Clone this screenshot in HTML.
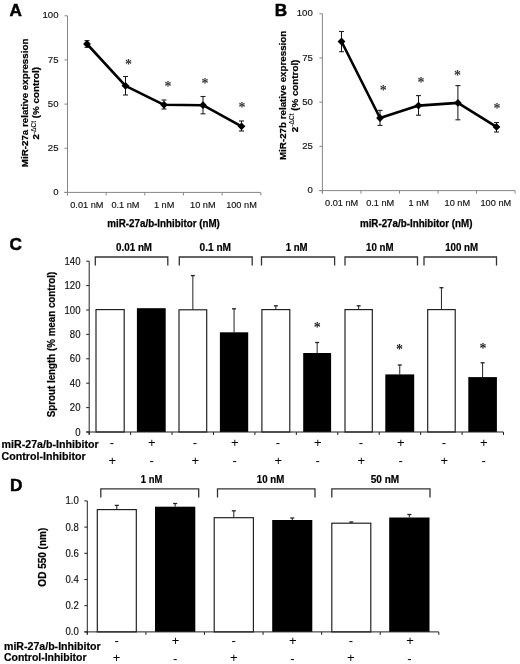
<!DOCTYPE html>
<html><head><meta charset="utf-8"><style>
html,body{margin:0;padding:0;background:#fff;}
svg{display:block;font-family:"Liberation Sans", sans-serif;will-change:transform;}
</style></head><body>
<svg width="520" height="664" viewBox="0 0 520 664">
<rect width="520" height="664" fill="#fff"/>
<text x="9.40" y="16.30" font-size="17.2" font-weight="bold" text-anchor="start" fill="#000"  stroke="#000" stroke-width="0.5">A</text>
<text x="274.80" y="15.90" font-size="17.2" font-weight="bold" text-anchor="start" fill="#000"  stroke="#000" stroke-width="0.5">B</text>
<text x="9.50" y="249.50" font-size="17.2" font-weight="bold" text-anchor="start" fill="#000"  stroke="#000" stroke-width="0.5">C</text>
<text x="10.10" y="490.60" font-size="17.2" font-weight="bold" text-anchor="start" fill="#000"  stroke="#000" stroke-width="0.5">D</text>
<line x1="67.50" y1="15.80" x2="67.50" y2="195.40" stroke="#868686" stroke-width="1"/>
<line x1="64.50" y1="192.40" x2="260.80" y2="192.40" stroke="#868686" stroke-width="1"/>
<line x1="64.50" y1="15.80" x2="67.50" y2="15.80" stroke="#868686" stroke-width="1"/>
<text x="58.50" y="18.40" font-size="9.6" font-weight="normal" text-anchor="end" fill="#111"  stroke="#111" stroke-width="0.15">100</text>
<line x1="64.50" y1="59.95" x2="67.50" y2="59.95" stroke="#868686" stroke-width="1"/>
<text x="58.50" y="62.55" font-size="9.6" font-weight="normal" text-anchor="end" fill="#111"  stroke="#111" stroke-width="0.15">75</text>
<line x1="64.50" y1="104.10" x2="67.50" y2="104.10" stroke="#868686" stroke-width="1"/>
<text x="58.50" y="106.70" font-size="9.6" font-weight="normal" text-anchor="end" fill="#111"  stroke="#111" stroke-width="0.15">50</text>
<line x1="64.50" y1="148.25" x2="67.50" y2="148.25" stroke="#868686" stroke-width="1"/>
<text x="58.50" y="150.85" font-size="9.6" font-weight="normal" text-anchor="end" fill="#111"  stroke="#111" stroke-width="0.15">25</text>
<line x1="64.50" y1="192.40" x2="67.50" y2="192.40" stroke="#868686" stroke-width="1"/>
<text x="58.50" y="195.00" font-size="9.6" font-weight="normal" text-anchor="end" fill="#111"  stroke="#111" stroke-width="0.15">0</text>
<line x1="67.50" y1="192.40" x2="67.50" y2="195.40" stroke="#868686" stroke-width="1"/>
<line x1="106.16" y1="192.40" x2="106.16" y2="195.40" stroke="#868686" stroke-width="1"/>
<line x1="144.82" y1="192.40" x2="144.82" y2="195.40" stroke="#868686" stroke-width="1"/>
<line x1="183.48" y1="192.40" x2="183.48" y2="195.40" stroke="#868686" stroke-width="1"/>
<line x1="222.14" y1="192.40" x2="222.14" y2="195.40" stroke="#868686" stroke-width="1"/>
<line x1="260.80" y1="192.40" x2="260.80" y2="195.40" stroke="#868686" stroke-width="1"/>
<text x="86.83" y="207.70" font-size="9.2" font-weight="normal" text-anchor="middle" fill="#111"  stroke="#111" stroke-width="0.15">0.01 nM</text>
<text x="125.49" y="207.70" font-size="9.2" font-weight="normal" text-anchor="middle" fill="#111"  stroke="#111" stroke-width="0.15">0.1 nM</text>
<text x="164.15" y="207.70" font-size="9.2" font-weight="normal" text-anchor="middle" fill="#111"  stroke="#111" stroke-width="0.15">1 nM</text>
<text x="202.81" y="207.70" font-size="9.2" font-weight="normal" text-anchor="middle" fill="#111"  stroke="#111" stroke-width="0.15">10 nM</text>
<text x="241.47" y="207.70" font-size="9.2" font-weight="normal" text-anchor="middle" fill="#111"  stroke="#111" stroke-width="0.15">100 nM</text>
<text x="163.60" y="226.50" font-size="10.3" font-weight="bold" text-anchor="middle" fill="#000" textLength="112.5" lengthAdjust="spacingAndGlyphs"  stroke="#000" stroke-width="0.25">miR-27a/b-Inhibitor (nM)</text>
<line x1="87.00" y1="40.60" x2="87.00" y2="47.30" stroke="#111" stroke-width="1"/>
<line x1="84.50" y1="40.60" x2="89.50" y2="40.60" stroke="#222" stroke-width="1.1"/>
<line x1="84.50" y1="47.30" x2="89.50" y2="47.30" stroke="#222" stroke-width="1.1"/>
<line x1="125.50" y1="76.50" x2="125.50" y2="95.00" stroke="#111" stroke-width="1"/>
<line x1="123.00" y1="76.50" x2="128.00" y2="76.50" stroke="#222" stroke-width="1.1"/>
<line x1="123.00" y1="95.00" x2="128.00" y2="95.00" stroke="#222" stroke-width="1.1"/>
<line x1="164.00" y1="100.00" x2="164.00" y2="109.00" stroke="#111" stroke-width="1"/>
<line x1="161.50" y1="100.00" x2="166.50" y2="100.00" stroke="#222" stroke-width="1.1"/>
<line x1="161.50" y1="109.00" x2="166.50" y2="109.00" stroke="#222" stroke-width="1.1"/>
<line x1="203.00" y1="96.50" x2="203.00" y2="113.80" stroke="#111" stroke-width="1"/>
<line x1="200.50" y1="96.50" x2="205.50" y2="96.50" stroke="#222" stroke-width="1.1"/>
<line x1="200.50" y1="113.80" x2="205.50" y2="113.80" stroke="#222" stroke-width="1.1"/>
<line x1="241.50" y1="121.00" x2="241.50" y2="131.00" stroke="#111" stroke-width="1"/>
<line x1="239.00" y1="121.00" x2="244.00" y2="121.00" stroke="#222" stroke-width="1.1"/>
<line x1="239.00" y1="131.00" x2="244.00" y2="131.00" stroke="#222" stroke-width="1.1"/>
<path d="M87.00,44.00 L125.50,85.80 L164.00,104.80 L203.00,105.20 L241.50,126.30" stroke="#000" stroke-width="2.6" fill="none" stroke-linejoin="round"/>
<path d="M87.00,40.10L90.90,44.00L87.00,47.90L83.10,44.00Z" fill="#000"/>
<path d="M125.50,81.90L129.40,85.80L125.50,89.70L121.60,85.80Z" fill="#000"/>
<path d="M164.00,100.90L167.90,104.80L164.00,108.70L160.10,104.80Z" fill="#000"/>
<path d="M203.00,101.30L206.90,105.20L203.00,109.10L199.10,105.20Z" fill="#000"/>
<path d="M241.50,122.40L245.40,126.30L241.50,130.20L237.60,126.30Z" fill="#000"/>
<text x="128.40" y="68.98" font-family="Liberation Serif" font-weight="bold" font-size="14" text-anchor="middle" fill="#333">*</text>
<text x="167.90" y="91.38" font-family="Liberation Serif" font-weight="bold" font-size="14" text-anchor="middle" fill="#333">*</text>
<text x="205.00" y="87.58" font-family="Liberation Serif" font-weight="bold" font-size="14" text-anchor="middle" fill="#333">*</text>
<text x="242.00" y="111.58" font-family="Liberation Serif" font-weight="bold" font-size="14" text-anchor="middle" fill="#333">*</text>
<text transform="translate(28.40,102.90) rotate(-90)" x="0" y="0" font-size="9.8" font-weight="bold" text-anchor="middle" fill="#000" stroke="#000" stroke-width="0.22" textLength="128.5" lengthAdjust="spacingAndGlyphs">MiR-27a relative expression</text>
<text transform="translate(39.40,103.30) rotate(-90)" font-size="9.8" font-weight="bold" text-anchor="middle" stroke="#000" stroke-width="0.22">2<tspan font-size="6.6" font-weight="normal" stroke-width="0.1" dy="-3.6">-ΔCt</tspan><tspan dy="3.6"> (% control)</tspan></text>
<line x1="322.40" y1="13.80" x2="322.40" y2="193.60" stroke="#868686" stroke-width="1"/>
<line x1="319.40" y1="190.60" x2="515.10" y2="190.60" stroke="#868686" stroke-width="1"/>
<line x1="319.40" y1="13.80" x2="322.40" y2="13.80" stroke="#868686" stroke-width="1"/>
<text x="312.80" y="16.40" font-size="9.6" font-weight="normal" text-anchor="end" fill="#111"  stroke="#111" stroke-width="0.15">100</text>
<line x1="319.40" y1="58.00" x2="322.40" y2="58.00" stroke="#868686" stroke-width="1"/>
<text x="312.80" y="60.60" font-size="9.6" font-weight="normal" text-anchor="end" fill="#111"  stroke="#111" stroke-width="0.15">75</text>
<line x1="319.40" y1="102.20" x2="322.40" y2="102.20" stroke="#868686" stroke-width="1"/>
<text x="312.80" y="104.80" font-size="9.6" font-weight="normal" text-anchor="end" fill="#111"  stroke="#111" stroke-width="0.15">50</text>
<line x1="319.40" y1="146.40" x2="322.40" y2="146.40" stroke="#868686" stroke-width="1"/>
<text x="312.80" y="149.00" font-size="9.6" font-weight="normal" text-anchor="end" fill="#111"  stroke="#111" stroke-width="0.15">25</text>
<line x1="319.40" y1="190.60" x2="322.40" y2="190.60" stroke="#868686" stroke-width="1"/>
<text x="312.80" y="193.20" font-size="9.6" font-weight="normal" text-anchor="end" fill="#111"  stroke="#111" stroke-width="0.15">0</text>
<line x1="322.40" y1="190.60" x2="322.40" y2="193.60" stroke="#868686" stroke-width="1"/>
<line x1="360.94" y1="190.60" x2="360.94" y2="193.60" stroke="#868686" stroke-width="1"/>
<line x1="399.48" y1="190.60" x2="399.48" y2="193.60" stroke="#868686" stroke-width="1"/>
<line x1="438.02" y1="190.60" x2="438.02" y2="193.60" stroke="#868686" stroke-width="1"/>
<line x1="476.56" y1="190.60" x2="476.56" y2="193.60" stroke="#868686" stroke-width="1"/>
<line x1="515.10" y1="190.60" x2="515.10" y2="193.60" stroke="#868686" stroke-width="1"/>
<text x="341.67" y="205.90" font-size="9.2" font-weight="normal" text-anchor="middle" fill="#111"  stroke="#111" stroke-width="0.15">0.01 nM</text>
<text x="380.21" y="205.90" font-size="9.2" font-weight="normal" text-anchor="middle" fill="#111"  stroke="#111" stroke-width="0.15">0.1 nM</text>
<text x="418.75" y="205.90" font-size="9.2" font-weight="normal" text-anchor="middle" fill="#111"  stroke="#111" stroke-width="0.15">1 nM</text>
<text x="457.29" y="205.90" font-size="9.2" font-weight="normal" text-anchor="middle" fill="#111"  stroke="#111" stroke-width="0.15">10 nM</text>
<text x="495.83" y="205.90" font-size="9.2" font-weight="normal" text-anchor="middle" fill="#111"  stroke="#111" stroke-width="0.15">100 nM</text>
<text x="416.20" y="226.50" font-size="10.3" font-weight="bold" text-anchor="middle" fill="#000" textLength="112.5" lengthAdjust="spacingAndGlyphs"  stroke="#000" stroke-width="0.25">miR-27a/b-Inhibitor (nM)</text>
<line x1="341.50" y1="31.50" x2="341.50" y2="51.70" stroke="#111" stroke-width="1"/>
<line x1="339.00" y1="31.50" x2="344.00" y2="31.50" stroke="#222" stroke-width="1.1"/>
<line x1="339.00" y1="51.70" x2="344.00" y2="51.70" stroke="#222" stroke-width="1.1"/>
<line x1="380.00" y1="110.40" x2="380.00" y2="125.40" stroke="#111" stroke-width="1"/>
<line x1="377.50" y1="110.40" x2="382.50" y2="110.40" stroke="#222" stroke-width="1.1"/>
<line x1="377.50" y1="125.40" x2="382.50" y2="125.40" stroke="#222" stroke-width="1.1"/>
<line x1="418.50" y1="95.60" x2="418.50" y2="115.20" stroke="#111" stroke-width="1"/>
<line x1="416.00" y1="95.60" x2="421.00" y2="95.60" stroke="#222" stroke-width="1.1"/>
<line x1="416.00" y1="115.20" x2="421.00" y2="115.20" stroke="#222" stroke-width="1.1"/>
<line x1="457.90" y1="85.60" x2="457.90" y2="119.80" stroke="#111" stroke-width="1"/>
<line x1="455.40" y1="85.60" x2="460.40" y2="85.60" stroke="#222" stroke-width="1.1"/>
<line x1="455.40" y1="119.80" x2="460.40" y2="119.80" stroke="#222" stroke-width="1.1"/>
<line x1="496.50" y1="122.50" x2="496.50" y2="132.00" stroke="#111" stroke-width="1"/>
<line x1="494.00" y1="122.50" x2="499.00" y2="122.50" stroke="#222" stroke-width="1.1"/>
<line x1="494.00" y1="132.00" x2="499.00" y2="132.00" stroke="#222" stroke-width="1.1"/>
<path d="M341.50,41.50 L380.00,118.00 L418.50,105.60 L457.90,102.90 L496.50,126.90" stroke="#000" stroke-width="2.6" fill="none" stroke-linejoin="round"/>
<path d="M341.50,37.60L345.40,41.50L341.50,45.40L337.60,41.50Z" fill="#000"/>
<path d="M380.00,114.10L383.90,118.00L380.00,121.90L376.10,118.00Z" fill="#000"/>
<path d="M418.50,101.70L422.40,105.60L418.50,109.50L414.60,105.60Z" fill="#000"/>
<path d="M457.90,99.00L461.80,102.90L457.90,106.80L454.00,102.90Z" fill="#000"/>
<path d="M496.50,123.00L500.40,126.90L496.50,130.80L492.60,126.90Z" fill="#000"/>
<text x="383.30" y="95.08" font-family="Liberation Serif" font-weight="bold" font-size="14" text-anchor="middle" fill="#333">*</text>
<text x="421.00" y="86.97" font-family="Liberation Serif" font-weight="bold" font-size="14" text-anchor="middle" fill="#333">*</text>
<text x="457.50" y="80.08" font-family="Liberation Serif" font-weight="bold" font-size="14" text-anchor="middle" fill="#333">*</text>
<text x="497.00" y="113.17" font-family="Liberation Serif" font-weight="bold" font-size="14" text-anchor="middle" fill="#333">*</text>
<text transform="translate(286.30,95.40) rotate(-90)" x="0" y="0" font-size="9.8" font-weight="bold" text-anchor="middle" fill="#000" stroke="#000" stroke-width="0.22" textLength="129.3" lengthAdjust="spacingAndGlyphs">MiR-27b relative expression</text>
<text transform="translate(297.80,95.90) rotate(-90)" font-size="9.8" font-weight="bold" text-anchor="middle" stroke="#000" stroke-width="0.22">2<tspan font-size="6.6" font-weight="normal" stroke-width="0.1" dy="-3.6">-ΔCt</tspan><tspan dy="3.6"> (% control)</tspan></text>
<rect x="96.00" y="309.60" width="28.20" height="122.40" fill="#fff" stroke="#1a1a1a" stroke-width="1.15"/>
<rect x="136.90" y="308.20" width="28.80" height="123.80" fill="#000"/>
<line x1="192.85" y1="275.60" x2="192.85" y2="309.80" stroke="#222" stroke-width="1"/>
<line x1="190.85" y1="275.60" x2="194.85" y2="275.60" stroke="#222" stroke-width="1.3"/>
<rect x="179.00" y="309.80" width="27.70" height="122.20" fill="#fff" stroke="#1a1a1a" stroke-width="1.15"/>
<line x1="234.05" y1="308.80" x2="234.05" y2="332.30" stroke="#222" stroke-width="1"/>
<line x1="232.05" y1="308.80" x2="236.05" y2="308.80" stroke="#222" stroke-width="1.3"/>
<rect x="219.90" y="332.30" width="28.30" height="99.70" fill="#000"/>
<line x1="275.85" y1="305.80" x2="275.85" y2="309.60" stroke="#222" stroke-width="1"/>
<line x1="273.85" y1="305.80" x2="277.85" y2="305.80" stroke="#222" stroke-width="1.3"/>
<rect x="261.90" y="309.60" width="27.90" height="122.40" fill="#fff" stroke="#1a1a1a" stroke-width="1.15"/>
<line x1="317.15" y1="342.50" x2="317.15" y2="353.00" stroke="#222" stroke-width="1"/>
<line x1="315.15" y1="342.50" x2="319.15" y2="342.50" stroke="#222" stroke-width="1.3"/>
<rect x="303.20" y="353.00" width="27.90" height="79.00" fill="#000"/>
<line x1="358.65" y1="305.80" x2="358.65" y2="309.60" stroke="#222" stroke-width="1"/>
<line x1="356.65" y1="305.80" x2="360.65" y2="305.80" stroke="#222" stroke-width="1.3"/>
<rect x="345.00" y="309.60" width="27.30" height="122.40" fill="#fff" stroke="#1a1a1a" stroke-width="1.15"/>
<line x1="399.75" y1="365.00" x2="399.75" y2="374.40" stroke="#222" stroke-width="1"/>
<line x1="397.75" y1="365.00" x2="401.75" y2="365.00" stroke="#222" stroke-width="1.3"/>
<rect x="385.30" y="374.40" width="28.90" height="57.60" fill="#000"/>
<line x1="441.45" y1="287.70" x2="441.45" y2="309.60" stroke="#222" stroke-width="1"/>
<line x1="439.45" y1="287.70" x2="443.45" y2="287.70" stroke="#222" stroke-width="1.3"/>
<rect x="427.70" y="309.60" width="27.50" height="122.40" fill="#fff" stroke="#1a1a1a" stroke-width="1.15"/>
<line x1="482.60" y1="362.80" x2="482.60" y2="377.10" stroke="#222" stroke-width="1"/>
<line x1="480.60" y1="362.80" x2="484.60" y2="362.80" stroke="#222" stroke-width="1.3"/>
<rect x="468.30" y="377.10" width="28.60" height="54.90" fill="#000"/>
<line x1="89.20" y1="261.20" x2="89.20" y2="434.50" stroke="#222" stroke-width="1"/>
<line x1="86.20" y1="432.00" x2="503.50" y2="432.00" stroke="#222" stroke-width="1"/>
<line x1="89.20" y1="432.00" x2="89.20" y2="435.00" stroke="#222" stroke-width="1"/>
<line x1="130.63" y1="432.00" x2="130.63" y2="435.00" stroke="#222" stroke-width="1"/>
<line x1="172.06" y1="432.00" x2="172.06" y2="435.00" stroke="#222" stroke-width="1"/>
<line x1="213.49" y1="432.00" x2="213.49" y2="435.00" stroke="#222" stroke-width="1"/>
<line x1="254.92" y1="432.00" x2="254.92" y2="435.00" stroke="#222" stroke-width="1"/>
<line x1="296.35" y1="432.00" x2="296.35" y2="435.00" stroke="#222" stroke-width="1"/>
<line x1="337.78" y1="432.00" x2="337.78" y2="435.00" stroke="#222" stroke-width="1"/>
<line x1="379.21" y1="432.00" x2="379.21" y2="435.00" stroke="#222" stroke-width="1"/>
<line x1="420.64" y1="432.00" x2="420.64" y2="435.00" stroke="#222" stroke-width="1"/>
<line x1="462.07" y1="432.00" x2="462.07" y2="435.00" stroke="#222" stroke-width="1"/>
<line x1="503.50" y1="432.00" x2="503.50" y2="435.00" stroke="#222" stroke-width="1"/>
<line x1="86.20" y1="432.00" x2="89.20" y2="432.00" stroke="#222" stroke-width="1"/>
<text transform="translate(80.50,435.50) scale(1,1.12)" font-size="9.6" text-anchor="end" fill="#111" stroke="#111" stroke-width="0.15">0</text>
<line x1="86.20" y1="407.60" x2="89.20" y2="407.60" stroke="#222" stroke-width="1"/>
<text transform="translate(80.50,411.10) scale(1,1.12)" font-size="9.6" text-anchor="end" fill="#111" stroke="#111" stroke-width="0.15">20</text>
<line x1="86.20" y1="383.20" x2="89.20" y2="383.20" stroke="#222" stroke-width="1"/>
<text transform="translate(80.50,386.70) scale(1,1.12)" font-size="9.6" text-anchor="end" fill="#111" stroke="#111" stroke-width="0.15">40</text>
<line x1="86.20" y1="358.80" x2="89.20" y2="358.80" stroke="#222" stroke-width="1"/>
<text transform="translate(80.50,362.30) scale(1,1.12)" font-size="9.6" text-anchor="end" fill="#111" stroke="#111" stroke-width="0.15">60</text>
<line x1="86.20" y1="334.40" x2="89.20" y2="334.40" stroke="#222" stroke-width="1"/>
<text transform="translate(80.50,337.90) scale(1,1.12)" font-size="9.6" text-anchor="end" fill="#111" stroke="#111" stroke-width="0.15">80</text>
<line x1="86.20" y1="310.00" x2="89.20" y2="310.00" stroke="#222" stroke-width="1"/>
<text transform="translate(80.50,313.50) scale(1,1.12)" font-size="9.6" text-anchor="end" fill="#111" stroke="#111" stroke-width="0.15">100</text>
<line x1="86.20" y1="285.60" x2="89.20" y2="285.60" stroke="#222" stroke-width="1"/>
<text transform="translate(80.50,289.10) scale(1,1.12)" font-size="9.6" text-anchor="end" fill="#111" stroke="#111" stroke-width="0.15">120</text>
<line x1="86.20" y1="261.20" x2="89.20" y2="261.20" stroke="#222" stroke-width="1"/>
<text transform="translate(80.50,264.70) scale(1,1.12)" font-size="9.6" text-anchor="end" fill="#111" stroke="#111" stroke-width="0.15">140</text>
<path d="M95.30,265.40V257.00H167.80V265.40" stroke="#333" stroke-width="1.3" fill="none"/>
<text x="134.05" y="250.50" font-size="10.6" font-weight="bold" text-anchor="middle" fill="#000" textLength="36" lengthAdjust="spacingAndGlyphs"  stroke="#000" stroke-width="0.2">0.01 nM</text>
<path d="M179.30,265.40V257.00H252.20V265.40" stroke="#333" stroke-width="1.3" fill="none"/>
<text x="215.25" y="250.50" font-size="10.6" font-weight="bold" text-anchor="middle" fill="#000" textLength="31.5" lengthAdjust="spacingAndGlyphs"  stroke="#000" stroke-width="0.2">0.1 nM</text>
<path d="M261.50,265.40V257.00H334.60V265.40" stroke="#333" stroke-width="1.3" fill="none"/>
<text x="296.65" y="250.50" font-size="10.6" font-weight="bold" text-anchor="middle" fill="#000" textLength="22" lengthAdjust="spacingAndGlyphs"  stroke="#000" stroke-width="0.2">1 nM</text>
<path d="M345.00,265.40V257.00H417.50V265.40" stroke="#333" stroke-width="1.3" fill="none"/>
<text x="379.75" y="250.50" font-size="10.6" font-weight="bold" text-anchor="middle" fill="#000" textLength="27.5" lengthAdjust="spacingAndGlyphs"  stroke="#000" stroke-width="0.2">10 nM</text>
<path d="M424.00,265.40V257.00H496.50V265.40" stroke="#333" stroke-width="1.3" fill="none"/>
<text x="461.65" y="250.50" font-size="10.6" font-weight="bold" text-anchor="middle" fill="#000" textLength="33" lengthAdjust="spacingAndGlyphs"  stroke="#000" stroke-width="0.2">100 nM</text>
<text transform="translate(55.20,344.50) rotate(-90)" x="0" y="0" font-size="10" font-weight="bold" text-anchor="middle" fill="#000" stroke="#000" stroke-width="0.22" textLength="145.5" lengthAdjust="spacingAndGlyphs">Sprout length (% mean control)</text>
<text x="317.30" y="331.98" font-family="Liberation Serif" font-weight="bold" font-size="14" text-anchor="middle" fill="#222">*</text>
<text x="399.60" y="354.38" font-family="Liberation Serif" font-weight="bold" font-size="14" text-anchor="middle" fill="#222">*</text>
<text x="483.00" y="352.68" font-family="Liberation Serif" font-weight="bold" font-size="14" text-anchor="middle" fill="#222">*</text>
<text x="111.95" y="447.20" font-size="13" font-weight="normal" text-anchor="middle" fill="#000" >-</text>
<text x="151.75" y="446.60" font-size="13" font-weight="normal" text-anchor="middle" fill="#000" >+</text>
<text x="194.95" y="447.20" font-size="13" font-weight="normal" text-anchor="middle" fill="#000" >-</text>
<text x="234.75" y="446.60" font-size="13" font-weight="normal" text-anchor="middle" fill="#000" >+</text>
<text x="277.95" y="447.20" font-size="13" font-weight="normal" text-anchor="middle" fill="#000" >-</text>
<text x="317.75" y="446.60" font-size="13" font-weight="normal" text-anchor="middle" fill="#000" >+</text>
<text x="360.95" y="447.20" font-size="13" font-weight="normal" text-anchor="middle" fill="#000" >-</text>
<text x="400.75" y="446.60" font-size="13" font-weight="normal" text-anchor="middle" fill="#000" >+</text>
<text x="443.95" y="447.20" font-size="13" font-weight="normal" text-anchor="middle" fill="#000" >-</text>
<text x="483.75" y="446.60" font-size="13" font-weight="normal" text-anchor="middle" fill="#000" >+</text>
<text x="112.25" y="464.60" font-size="13" font-weight="normal" text-anchor="middle" fill="#000" >+</text>
<text x="151.65" y="465.20" font-size="13" font-weight="normal" text-anchor="middle" fill="#000" >-</text>
<text x="195.25" y="464.60" font-size="13" font-weight="normal" text-anchor="middle" fill="#000" >+</text>
<text x="234.65" y="465.20" font-size="13" font-weight="normal" text-anchor="middle" fill="#000" >-</text>
<text x="278.25" y="464.60" font-size="13" font-weight="normal" text-anchor="middle" fill="#000" >+</text>
<text x="317.65" y="465.20" font-size="13" font-weight="normal" text-anchor="middle" fill="#000" >-</text>
<text x="361.25" y="464.60" font-size="13" font-weight="normal" text-anchor="middle" fill="#000" >+</text>
<text x="400.65" y="465.20" font-size="13" font-weight="normal" text-anchor="middle" fill="#000" >-</text>
<text x="444.25" y="464.60" font-size="13" font-weight="normal" text-anchor="middle" fill="#000" >+</text>
<text x="483.65" y="465.20" font-size="13" font-weight="normal" text-anchor="middle" fill="#000" >-</text>
<text x="1.60" y="448.20" font-size="10.5" font-weight="bold" text-anchor="start" fill="#000" textLength="97" lengthAdjust="spacingAndGlyphs"  stroke="#000" stroke-width="0.2">miR-27a/b-Inhibitor</text>
<text x="1.60" y="460.30" font-size="10.5" font-weight="bold" text-anchor="start" fill="#000" textLength="84" lengthAdjust="spacingAndGlyphs"  stroke="#000" stroke-width="0.2">Control-Inhibitor</text>
<line x1="116.80" y1="505.40" x2="116.80" y2="509.60" stroke="#222" stroke-width="1"/>
<line x1="114.80" y1="505.40" x2="118.80" y2="505.40" stroke="#222" stroke-width="1.3"/>
<rect x="97.30" y="509.60" width="39.00" height="122.30" fill="#fff" stroke="#1a1a1a" stroke-width="1.15"/>
<line x1="175.15" y1="503.50" x2="175.15" y2="506.70" stroke="#222" stroke-width="1"/>
<line x1="173.15" y1="503.50" x2="177.15" y2="503.50" stroke="#222" stroke-width="1.3"/>
<rect x="155.00" y="506.70" width="40.30" height="125.20" fill="#000"/>
<line x1="233.80" y1="510.80" x2="233.80" y2="517.70" stroke="#222" stroke-width="1"/>
<line x1="231.80" y1="510.80" x2="235.80" y2="510.80" stroke="#222" stroke-width="1.3"/>
<rect x="214.20" y="517.70" width="39.20" height="114.20" fill="#fff" stroke="#1a1a1a" stroke-width="1.15"/>
<line x1="292.25" y1="518.00" x2="292.25" y2="520.00" stroke="#222" stroke-width="1"/>
<line x1="290.25" y1="518.00" x2="294.25" y2="518.00" stroke="#222" stroke-width="1.3"/>
<rect x="272.20" y="520.00" width="40.10" height="111.90" fill="#000"/>
<line x1="351.30" y1="522.00" x2="351.30" y2="523.20" stroke="#222" stroke-width="1"/>
<line x1="349.30" y1="522.00" x2="353.30" y2="522.00" stroke="#222" stroke-width="1.3"/>
<rect x="331.80" y="523.20" width="39.00" height="108.70" fill="#fff" stroke="#1a1a1a" stroke-width="1.15"/>
<line x1="409.35" y1="514.50" x2="409.35" y2="517.50" stroke="#222" stroke-width="1"/>
<line x1="407.35" y1="514.50" x2="411.35" y2="514.50" stroke="#222" stroke-width="1.3"/>
<rect x="389.20" y="517.50" width="40.30" height="114.40" fill="#000"/>
<line x1="87.30" y1="500.90" x2="87.30" y2="634.40" stroke="#222" stroke-width="1"/>
<line x1="84.30" y1="631.90" x2="438.80" y2="631.90" stroke="#222" stroke-width="1"/>
<line x1="87.30" y1="631.90" x2="87.30" y2="634.90" stroke="#222" stroke-width="1"/>
<line x1="145.88" y1="631.90" x2="145.88" y2="634.90" stroke="#222" stroke-width="1"/>
<line x1="204.47" y1="631.90" x2="204.47" y2="634.90" stroke="#222" stroke-width="1"/>
<line x1="263.05" y1="631.90" x2="263.05" y2="634.90" stroke="#222" stroke-width="1"/>
<line x1="321.63" y1="631.90" x2="321.63" y2="634.90" stroke="#222" stroke-width="1"/>
<line x1="380.22" y1="631.90" x2="380.22" y2="634.90" stroke="#222" stroke-width="1"/>
<line x1="438.80" y1="631.90" x2="438.80" y2="634.90" stroke="#222" stroke-width="1"/>
<line x1="84.30" y1="631.90" x2="87.30" y2="631.90" stroke="#222" stroke-width="1"/>
<text transform="translate(78.80,635.40) scale(1,1.12)" font-size="9.6" text-anchor="end" fill="#111" stroke="#111" stroke-width="0.15">0.0</text>
<line x1="84.30" y1="605.70" x2="87.30" y2="605.70" stroke="#222" stroke-width="1"/>
<text transform="translate(78.80,609.20) scale(1,1.12)" font-size="9.6" text-anchor="end" fill="#111" stroke="#111" stroke-width="0.15">0.2</text>
<line x1="84.30" y1="579.50" x2="87.30" y2="579.50" stroke="#222" stroke-width="1"/>
<text transform="translate(78.80,583.00) scale(1,1.12)" font-size="9.6" text-anchor="end" fill="#111" stroke="#111" stroke-width="0.15">0.4</text>
<line x1="84.30" y1="553.30" x2="87.30" y2="553.30" stroke="#222" stroke-width="1"/>
<text transform="translate(78.80,556.80) scale(1,1.12)" font-size="9.6" text-anchor="end" fill="#111" stroke="#111" stroke-width="0.15">0.6</text>
<line x1="84.30" y1="527.10" x2="87.30" y2="527.10" stroke="#222" stroke-width="1"/>
<text transform="translate(78.80,530.60) scale(1,1.12)" font-size="9.6" text-anchor="end" fill="#111" stroke="#111" stroke-width="0.15">0.8</text>
<line x1="84.30" y1="500.90" x2="87.30" y2="500.90" stroke="#222" stroke-width="1"/>
<text transform="translate(78.80,504.40) scale(1,1.12)" font-size="9.6" text-anchor="end" fill="#111" stroke="#111" stroke-width="0.15">1.0</text>
<path d="M100.80,497.50V488.80H198.70V497.50" stroke="#333" stroke-width="1.3" fill="none"/>
<text x="151.60" y="483.20" font-size="10.6" font-weight="bold" text-anchor="middle" fill="#000" textLength="21.5" lengthAdjust="spacingAndGlyphs"  stroke="#000" stroke-width="0.2">1 nM</text>
<path d="M217.50,497.50V488.80H315.00V497.50" stroke="#333" stroke-width="1.3" fill="none"/>
<text x="270.50" y="483.20" font-size="10.6" font-weight="bold" text-anchor="middle" fill="#000" textLength="27.5" lengthAdjust="spacingAndGlyphs"  stroke="#000" stroke-width="0.2">10 nM</text>
<path d="M331.80,497.50V488.80H430.00V497.50" stroke="#333" stroke-width="1.3" fill="none"/>
<text x="385.00" y="483.20" font-size="10.6" font-weight="bold" text-anchor="middle" fill="#000" textLength="28.5" lengthAdjust="spacingAndGlyphs"  stroke="#000" stroke-width="0.2">50 nM</text>
<text transform="translate(46.00,557.20) rotate(-90)" x="0" y="0" font-size="10" font-weight="bold" text-anchor="middle" fill="#000" stroke="#000" stroke-width="0.22">OD 550 (nm)</text>
<text x="116.59" y="645.20" font-size="13" font-weight="normal" text-anchor="middle" fill="#000" >-</text>
<text x="175.67" y="644.60" font-size="13" font-weight="normal" text-anchor="middle" fill="#000" >+</text>
<text x="233.75" y="645.20" font-size="13" font-weight="normal" text-anchor="middle" fill="#000" >-</text>
<text x="292.83" y="644.60" font-size="13" font-weight="normal" text-anchor="middle" fill="#000" >+</text>
<text x="350.91" y="645.20" font-size="13" font-weight="normal" text-anchor="middle" fill="#000" >-</text>
<text x="409.99" y="644.60" font-size="13" font-weight="normal" text-anchor="middle" fill="#000" >+</text>
<text x="116.59" y="662.20" font-size="13" font-weight="normal" text-anchor="middle" fill="#000" >+</text>
<text x="175.17" y="662.80" font-size="13" font-weight="normal" text-anchor="middle" fill="#000" >-</text>
<text x="233.75" y="662.20" font-size="13" font-weight="normal" text-anchor="middle" fill="#000" >+</text>
<text x="292.33" y="662.80" font-size="13" font-weight="normal" text-anchor="middle" fill="#000" >-</text>
<text x="350.91" y="662.20" font-size="13" font-weight="normal" text-anchor="middle" fill="#000" >+</text>
<text x="409.49" y="662.80" font-size="13" font-weight="normal" text-anchor="middle" fill="#000" >-</text>
<text x="4.00" y="649.60" font-size="10.5" font-weight="bold" text-anchor="start" fill="#000" textLength="96.5" lengthAdjust="spacingAndGlyphs"  stroke="#000" stroke-width="0.2">miR-27a/b-Inhibitor</text>
<text x="4.00" y="661.20" font-size="10.5" font-weight="bold" text-anchor="start" fill="#000" textLength="82.5" lengthAdjust="spacingAndGlyphs"  stroke="#000" stroke-width="0.2">Control-Inhibitor</text>
</svg>
</body></html>
